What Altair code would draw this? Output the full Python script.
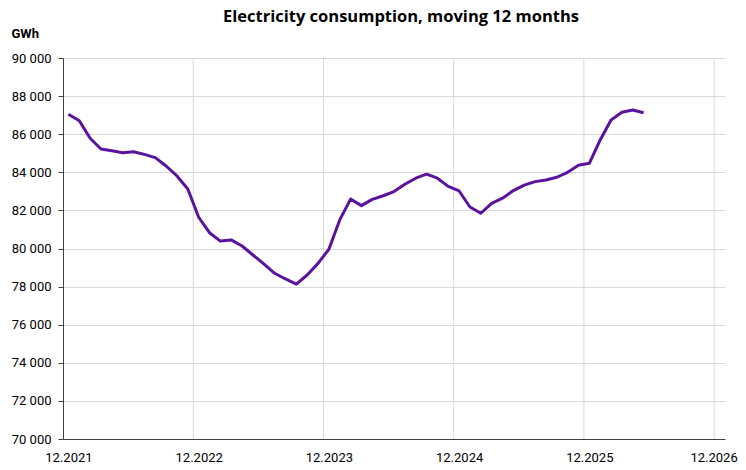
import altair as alt
import pandas as pd

months = [
    "2021-12", "2022-01", "2022-02", "2022-03", "2022-04", "2022-05", "2022-06",
    "2022-07", "2022-08", "2022-09", "2022-10", "2022-11", "2022-12",
    "2023-01", "2023-02", "2023-03", "2023-04", "2023-05", "2023-06",
    "2023-07", "2023-08", "2023-09", "2023-10", "2023-11", "2023-12",
    "2024-01", "2024-02", "2024-03", "2024-04", "2024-05", "2024-06",
    "2024-07", "2024-08", "2024-09", "2024-10", "2024-11", "2024-12",
    "2025-01", "2025-02", "2025-03", "2025-04", "2025-05", "2025-06",
    "2025-07", "2025-08", "2025-09", "2025-10", "2025-11", "2025-12",
    "2026-01", "2026-02", "2026-03", "2026-04", "2026-05",
]
consumption_gwh = [
    87050, 86710, 85790, 85220, 85130, 85030, 85080,
    84940, 84770, 84330, 83810, 83120, 81640,
    80830, 80390, 80450, 80130, 79660, 79190,
    78700, 78400, 78130, 78610, 79220, 79960,
    81500, 82590, 82250, 82580, 82770, 82990,
    83370, 83690, 83900, 83690, 83260, 83020,
    82180, 81850, 82370, 82640, 83040, 83330,
    83510, 83600, 83740, 84000, 84370, 84470,
    85700, 86750, 87150, 87270, 87130,
]
x_tick_labels = ["12.2021", "12.2022", "12.2023", "12.2024", "12.2025", "12.2026"]
year_gridlines = [0, 12, 24, 36, 48, 60]

df = pd.DataFrame({"month": months, "value": consumption_gwh})
start_year, start_month = 2021, 12
df["idx"] = [
    (int(m[:4]) - start_year) * 12 + (int(m[5:]) - start_month) + 0.5 for m in months
]
grid_df = pd.DataFrame({"g": year_gridlines[1:]})

label_lookup = "[" + ",".join(f"'{l}'" for l in x_tick_labels) + "]"
label_positions = [g + 0.5 for g in year_gridlines]

font = "Roboto, Liberation Sans, Arial"
title_font = "Open Sans, Roboto, Liberation Sans, Arial"
W, H = 662, 381

x_scale = alt.Scale(domain=[0, 61], nice=False, zero=False)
x_axis = alt.Axis(
    values=label_positions,
    labelExpr=f"{label_lookup}[floor(datum.value/12)]",
    title=None,
    grid=False,
    ticks=False,
    domainColor="#404040",
    domainWidth=1,
    labelFont=font,
    labelFontSize=13,
    labelColor="#000000",
    labelPadding=22,
    labelBaseline="alphabetic",
    labelFlush=False,
    labelOverlap=False,
    labelOffset={"condition": {"test": "datum.value > 60", "value": -6}, "value": 0},
)

vgrid = (
    alt.Chart(grid_df)
    .mark_rule(color="#d9d9d9", strokeWidth=1)
    .encode(
        x=alt.X("g:Q", scale=x_scale, axis=x_axis),
        y=alt.value(0),
        y2=alt.value(H),
    )
)

line = (
    alt.Chart(df)
    .mark_line(color="#5B139F", strokeWidth=3, strokeJoin="round")
    .encode(
        x=alt.X("idx:Q", scale=x_scale, axis=x_axis),
        y=alt.Y(
            "value:Q",
            scale=alt.Scale(domain=[70000, 90000], nice=False, zero=False),
            axis=alt.Axis(
                values=list(range(70000, 90001, 2000)),
                labelExpr="replace(format(datum.value, ',d'), ',', ' ')",
                title="GWh",
                titleAngle=0,
                titleAlign="left",
                titleBaseline="middle",
                titleX=-52,
                titleY=-25,
                titleFont=font,
                titleFontSize=13,
                titleFontWeight="bold",
                titleColor="#000000",
                grid=True,
                gridColor="#d9d9d9",
                gridWidth=1,
                tickSize=5,
                tickColor="#404040",
                domainColor="#404040",
                domainWidth=1,
                labelFont=font,
                labelFontSize=13,
                labelColor="#000000",
                labelPadding=7,
            ),
        ),
    )
)

chart = (
    alt.layer(vgrid, line)
    .properties(
        width=W,
        height=H,
        title=alt.TitleParams(
            "Electricity consumption, moving 12 months",
            font=title_font,
            fontSize=16.5,
            fontWeight="bold",
            color="#000000",
            anchor="middle",
            frame="group",
            baseline="alphabetic",
            offset=4,
            dy=15,
            dx=7,
        ),
        autosize=alt.AutoSizeParams(type="none"),
        padding={"left": 55, "top": 50, "right": 13, "bottom": 23},
    )
    .configure_view(stroke=None)
)

chart.save("out.html", embed_options={"renderer": "svg", "actions": False})
